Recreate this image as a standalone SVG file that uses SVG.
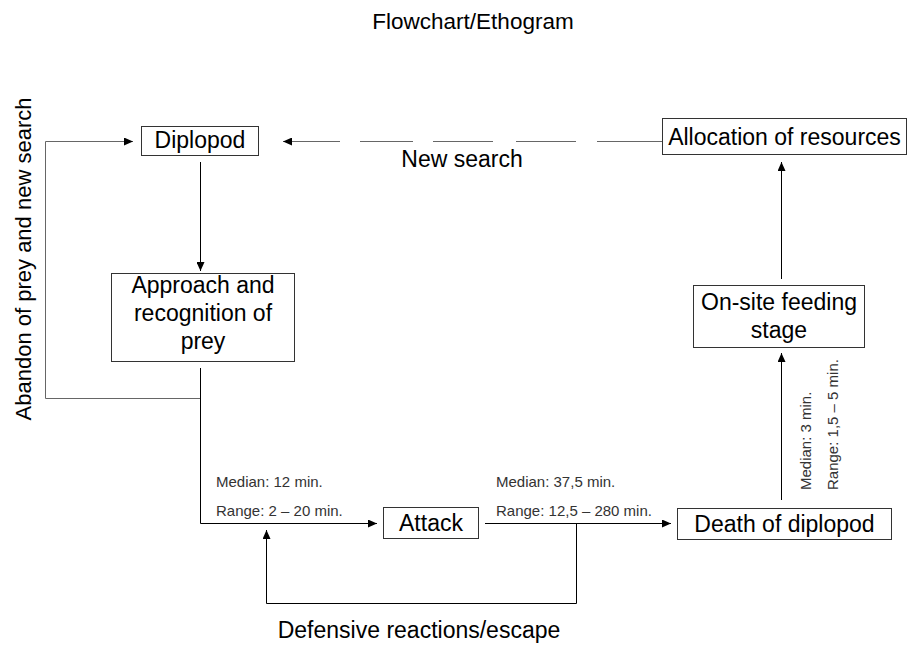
<svg xmlns="http://www.w3.org/2000/svg" width="908" height="649" viewBox="0 0 908 649">
<defs>
<style>
.box{fill:#fff;stroke:#333;stroke-width:1}
.t{font-family:"Liberation Sans",Arial,sans-serif;font-size:23px;fill:#000;text-anchor:middle}
.s{font-family:"Liberation Sans",Arial,sans-serif;font-size:15px;fill:#333}
.ln{fill:none;stroke:#000;stroke-width:1}
.gl{fill:none;stroke:#666;stroke-width:1}
</style>
<marker id="ah" markerUnits="userSpaceOnUse" markerWidth="10" markerHeight="8" refX="9" refY="4" orient="auto">
<path d="M0,0 L9,4 L0,8 Z" fill="#000"/>
</marker>
</defs>
<rect width="908" height="649" fill="#fff"/>
<text class="t" x="473" y="29" style="font-size:22.5px">Flowchart/Ethogram</text>
<g id="connectors">
<line class="gl" x1="662" y1="141.5" x2="283" y2="141.5" stroke-dasharray="65 21 60 23 60 20 53 20 70" marker-end="url(#ah)"/>
<line class="ln" x1="200.5" y1="162" x2="200.5" y2="271" marker-end="url(#ah)"/>
<polyline class="gl" points="200.5,398.5 45.5,398.5 45.5,141.5 133,141.5" marker-end="url(#ah)"/>
<polyline class="ln" points="200.5,368 200.5,523.5 377,523.5" marker-end="url(#ah)"/>
<line class="ln" x1="485" y1="523.5" x2="671" y2="523.5" marker-end="url(#ah)"/>
<polyline class="ln" points="576.5,523.5 576.5,603.5 266.5,603.5 266.5,530" marker-end="url(#ah)"/>
<line class="ln" x1="781.5" y1="500" x2="781.5" y2="353" marker-end="url(#ah)"/>
<line class="ln" x1="781.5" y1="279" x2="781.5" y2="162" marker-end="url(#ah)"/>
</g>
<g id="diplopod"><rect class="box" x="141.5" y="126.5" width="117" height="29"/><text class="t" x="200" y="148">Diplopod</text></g>
<g id="allocation"><rect class="box" x="662.5" y="118.5" width="244" height="36"/><text class="t" x="784.5" y="144.5">Allocation of resources</text></g>
<g id="new-search-label"><text class="t" x="462" y="167">New search</text></g>
<g id="approach"><rect class="box" x="111.5" y="273.5" width="183" height="88"/>
<text class="t" x="203" y="293">Approach and</text><text class="t" x="203" y="321">recognition of</text><text class="t" x="203" y="349">prey</text></g>
<g id="abandon-label"><text class="t" transform="translate(31,259) rotate(-90)" style="font-size:22px">Abandon of prey and new search</text></g>
<g id="attack"><rect class="box" x="383.5" y="507.5" width="95" height="31"/><text class="t" x="431" y="531">Attack</text></g>
<g id="death"><rect class="box" x="677.5" y="508.5" width="214" height="31"/><text class="t" x="784.5" y="532">Death of diplopod</text></g>
<g id="onsite"><rect class="box" x="693.5" y="285.5" width="171" height="62"/>
<text class="t" x="779" y="310">On-site feeding</text><text class="t" x="779" y="338">stage</text></g>
<g id="labels">
<text class="s" x="216" y="487">Median: 12 min.</text>
<text class="s" x="216" y="516">Range: 2 – 20 min.</text>
<text class="s" x="496" y="487">Median: 37,5 min.</text>
<text class="s" x="496" y="516">Range: 12,5 – 280 min.</text>
<text class="s" transform="translate(811,490) rotate(-90)">Median: 3 min.</text>
<text class="s" transform="translate(838,490) rotate(-90)">Range: 1,5 – 5 min.</text>
<text class="t" x="419" y="638">Defensive reactions/escape</text>
</g>
</svg>
